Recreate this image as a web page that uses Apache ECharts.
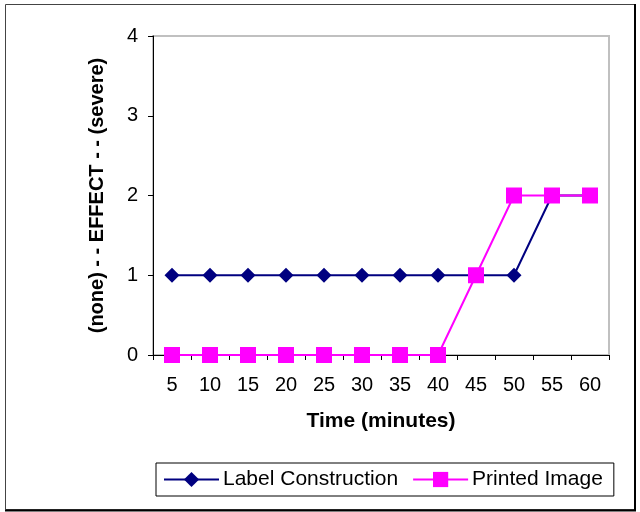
<!DOCTYPE html>
<html>
<head>
<meta charset="utf-8">
<script src="https://cdn.jsdelivr.net/npm/echarts@6/dist/echarts.min.js"></script>
<style>
  html, body { margin: 0; padding: 0; background: #fff; }
  #chart { width: 640px; height: 512px; }
</style>
</head>
<body>
<div id="chart"></div>
<script>
// Time points (minutes) along the horizontal axis
const timeLabels = ['5', '10', '15', '20', '25', '30', '35', '40', '45', '50', '55', '60'];
// Effect rating, 0 = none ... 4 = severe
const labelConstruction = [1, 1, 1, 1, 1, 1, 1, 1, 1, 1, 2, 2];
const printedImage = [0, 0, 0, 0, 0, 0, 0, 0, 1, 2, 2, 2];
const yTicks = [0, 1, 2, 3, 4];

const FONT = '"Liberation Sans", Arial, sans-serif';

const chart = echarts.init(document.getElementById('chart'), null, { renderer: 'canvas' });

chart.setOption({
  backgroundColor: '#ffffff',
  animation: false,
  textStyle: { fontFamily: FONT },
  graphic: [
    {
      type: 'rect',
      shape: { x: 5.5, y: 4.5, width: 629, height: 505 },
      style: { fill: 'none', stroke: '#444', lineWidth: 1 }
    },
    {
      type: 'polyline',
      shape: { points: [[635, 4], [635, 510.5], [5, 510.5]] },
      style: { fill: 'none', stroke: '#000', lineWidth: 2 }
    }
  ],
  grid: {
    left: 153,
    right: 31,
    top: 36,
    bottom: 157,
    show: true,
    borderColor: '#c0c0c0',
    borderWidth: 2,
    backgroundColor: 'transparent'
  },
  legend: {
    top: 463,
    left: 156,
    orient: 'horizontal',
    borderColor: '#000',
    borderWidth: 1,
    padding: [6, 11, 6, 7],
    itemWidth: 55,
    itemHeight: 19,
    itemGap: 14,
    textStyle: { fontSize: 21, color: '#000', fontFamily: FONT, padding: [0, 0, 0, -1] },
    data: ['Label Construction', 'Printed Image']
  },
  xAxis: {
    type: 'category',
    data: timeLabels,
    boundaryGap: true,
    name: 'Time (minutes)',
    nameLocation: 'middle',
    nameGap: 56,
    nameTextStyle: { fontSize: 21, fontWeight: 'bold', color: '#000', fontFamily: FONT },
    axisLine: { lineStyle: { color: '#000', width: 1 } },
    axisTick: { show: true, alignWithLabel: false, length: 5, lineStyle: { color: '#000' } },
    axisLabel: { fontSize: 20, color: '#000', margin: 20, fontFamily: FONT },
    splitLine: { show: false }
  },
  yAxis: {
    type: 'value',
    min: yTicks[0],
    max: yTicks[yTicks.length - 1],
    interval: 1,
    name: '(none) - - EFFECT - - (severe)',
    nameLocation: 'middle',
    nameGap: 46,
    nameTextStyle: { fontSize: 20, fontWeight: 'bold', color: '#000', fontFamily: FONT },
    axisLine: { show: true, lineStyle: { color: '#000', width: 1 } },
    axisTick: { show: true, length: 5, lineStyle: { color: '#000' } },
    axisLabel: { fontSize: 20, color: '#000', margin: 15, fontFamily: FONT },
    splitLine: { show: false }
  },
  series: [
    {
      name: 'Label Construction',
      type: 'line',
      data: labelConstruction,
      color: '#000080',
      symbol: 'diamond',
      symbolSize: 15,
      showAllSymbol: true,
      lineStyle: { color: '#000080', width: 2 },
      itemStyle: { color: '#000080', borderWidth: 0 },
      z: 2
    },
    {
      name: 'Printed Image',
      type: 'line',
      data: printedImage,
      color: '#ff00ff',
      symbol: 'rect',
      symbolSize: 16,
      showAllSymbol: true,
      lineStyle: { color: '#ff00ff', width: 2 },
      itemStyle: { color: '#ff00ff', borderWidth: 0 },
      z: 3
    }
  ]
});
</script>
</body>
</html>
